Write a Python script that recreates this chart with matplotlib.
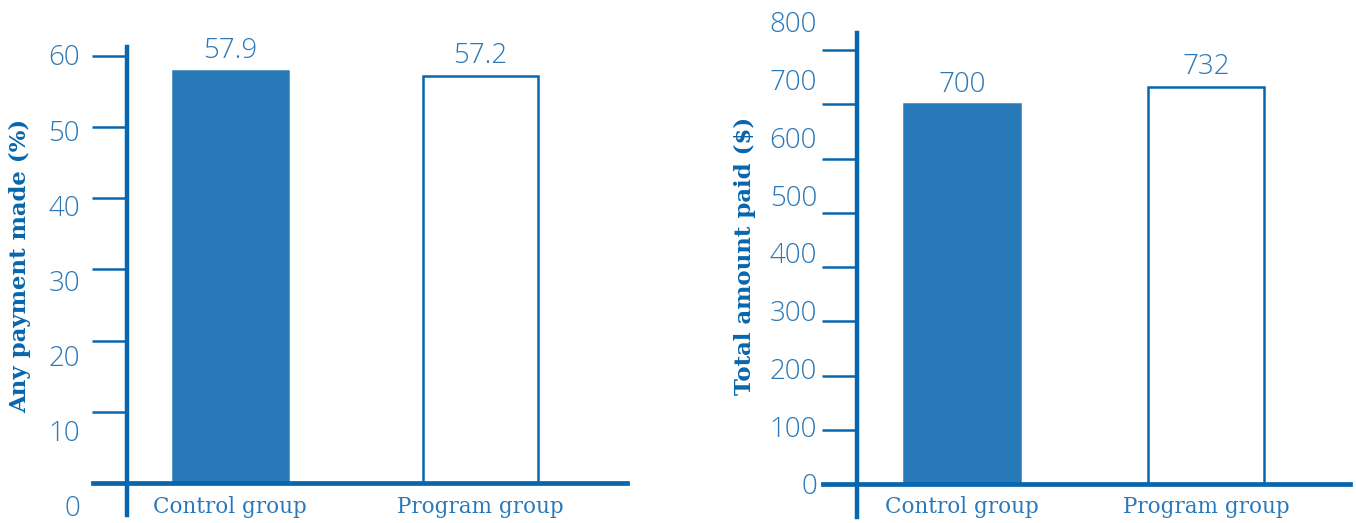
import numpy as np
import matplotlib.pyplot as plt

# data
groups = ["Control group", "Program group"]
pay_pct = [57.9, 57.2]
pay_amt = [700, 732]
pct_ticks = [0, 10, 20, 30, 40, 50, 60]
amt_ticks = [0, 100, 200, 300, 400, 500, 600, 700, 800]

W, H = 1356, 523
BAR = "#2779b8"
LINE = "#0766ad"
TXT = "#2b78b8"
NUMFONT = dict(family="Open Sans", fontweight="light", fontsize=20, color=TXT)

fig = plt.figure(figsize=(W / 100, H / 100), dpi=100)


def panel(vals, ticks, fmt, box, c0, unit, y0, ppv, lab0, lppv, spine_x, spine_top, spine_bot, width, pad_lab):
    left, top, right, bottom = box
    ax = fig.add_axes([left / W, 1 - bottom / H, (right - left) / W, (bottom - top) / H])
    ax.set_xlim((left - c0) / unit, (right - c0) / unit)
    ax.set_ylim((y0 - bottom) / ppv, (y0 - top) / ppv)
    x = np.arange(len(vals))
    bars = ax.bar(x, vals, width=width, color=[BAR, "white"],
                  edgecolor=[BAR, LINE], linewidth=1.8, zorder=2)
    ax.bar_label(bars, labels=[fmt.format(v) for v in vals], padding=4, **NUMFONT)

    for s in ["top", "right"]:
        ax.spines[s].set_visible(False)
    ax.spines["left"].set_position(("data", (spine_x - c0) / unit))
    ax.spines["left"].set_bounds((y0 - spine_bot) / ppv, (y0 - spine_top) / ppv)
    ax.spines["bottom"].set_position(("data", 0))
    for s, lw in [("left", 3.2), ("bottom", 3.4)]:
        ax.spines[s].set_linewidth(lw)
        ax.spines[s].set_color(LINE)
        ax.spines[s].set_zorder(3)

    ax.set_yticks(ticks)
    ax.tick_params(axis="y", direction="out", length=25, width=1.8,
                   color=LINE, labelleft=False)
    ax.set_xticks(x)
    ax.set_xticklabels(groups, family="DejaVu Serif", fontsize=15.5, color=TXT)
    ax.tick_params(axis="x", length=0, pad=9)

    # the tick numbers sit on their own slightly stretched scale in the original
    ax2 = ax.twinx()
    ax2.set_ylim((lab0 - bottom) / lppv, (lab0 - top) / lppv)
    ax2.yaxis.set_ticks_position("left")
    ax2.set_yticks(ticks)
    ax2.set_yticklabels([str(t) for t in ticks], **NUMFONT)
    ax2.tick_params(axis="y", length=0, pad=pad_lab)
    for s in ax2.spines.values():
        s.set_visible(False)
    return ax


axL = panel(pay_pct, pct_ticks, "{:.1f}", (93, 10, 627, 517), 230, 250,
            483, 7.117, 506, 7.517, 127, 47, 515, 0.46, 9.4)
fig.text(20 / W, 1 - 266 / H, "Any payment made (%)", rotation=90, ha="center", va="center",
         family="DejaVu Serif", fontweight="bold", fontsize=16.5, color=LINE)

axR = panel(pay_amt, amt_ticks, "{:d}", (823, 10, 1350, 517), 962, 244,
            484, 0.5425, 484, 0.5775, 857, 33, 517, 0.475, 4.3)
fig.text(745 / W, 1 - 256 / H, "Total amount paid ($)", rotation=90, ha="center", va="center",
         family="DejaVu Serif", fontweight="bold", fontsize=16.5, color=LINE)

fig.savefig("out.png", dpi=100)
